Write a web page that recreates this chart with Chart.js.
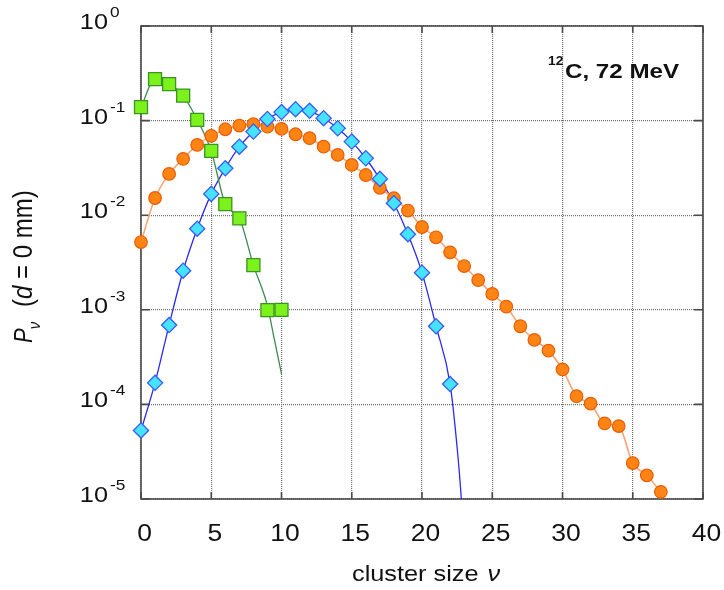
<!DOCTYPE html>
<html>
<head>
<meta charset="utf-8">
<script src="https://cdn.jsdelivr.net/npm/chart.js@4/dist/chart.umd.min.js"></script>
<style>
  html, body { margin: 0; padding: 0; background: #fff; }
</style>
</head>
<body>
<canvas id="chart" width="724" height="590"></canvas>
<script>
// cluster size distributions, 12C at 72 MeV, d = 0 mm
var sizeGreen = [0, 1, 2, 3, 4, 5, 6, 7, 8, 9, 10];
var probGreen = [0.139, 0.274, 0.243, 0.184, 0.102, 0.0478, 0.0131, 0.00927, 0.00297, 0.00099, 0.001];

var fitGreenX = [0, 1, 2, 3, 4, 5, 6, 7, 8, 9, 9.5, 10];
var fitGreenY = [0.139, 0.274, 0.243, 0.184, 0.102, 0.0478, 0.0131, 0.00927, 0.00297, 0.0011, 0.00048, 0.00021];

var sizeBlue = [0, 1, 2, 3, 4, 5, 6, 7, 8, 9, 10, 11, 12, 13, 14, 15, 16, 17, 18, 19, 20, 21, 22];
var probBlue = [5.3e-5, 1.69e-4, 6.9e-4, 2.59e-3, 7.2e-3, 0.0168, 0.0313, 0.053, 0.0765, 0.104, 0.123, 0.132,
	0.127, 0.106, 0.083, 0.060, 0.040, 0.0242, 0.0134, 6.3e-3, 2.47e-3, 6.7e-4, 1.64e-4];

var fitBlueX = sizeBlue.concat([22.5, 22.8, 23]);
var fitBlueY = probBlue.concat([3.5e-5, 1e-5, 3e-6]);

var sizeOrange = [0, 1, 2, 3, 4, 5, 6, 7, 8, 9, 10, 11, 12, 13, 14, 15, 16, 17, 18, 19, 20, 21, 22, 23, 24,
	25, 26, 27, 28, 29, 30, 31, 32, 33, 34, 35, 36, 37];
var probOrange = [5.2e-3, 0.0152, 0.0273, 0.0394, 0.0553, 0.069, 0.081, 0.0886, 0.092, 0.0864, 0.0817, 0.0717,
	0.0652, 0.053, 0.0434, 0.034, 0.0266, 0.0195, 0.0151, 0.0112, 7.5e-3, 5.84e-3, 4.05e-3, 2.9e-3, 2.06e-3,
	1.47e-3, 1.08e-3, 6.7e-4, 4.8e-4, 3.7e-4, 2.34e-4, 1.22e-4, 1.02e-4, 6.3e-5, 5.9e-5, 2.4e-5, 1.78e-5, 1.19e-5];

var xTicks = [0, 5, 10, 15, 20, 25, 30, 35, 40];
var yTicks = [1, 1e-1, 1e-2, 1e-3, 1e-4, 1e-5];
var yExp = ['0', '-1', '-2', '-3', '-4', '-5'];

var FONT = '"Liberation Sans", Arial, sans-serif';
var SX = 1.15; // the picture is a little wider than tall

function pts(xs, ys) {
	return xs.map(function (v, i) { return {x: v, y: ys[i]}; });
}

function text(ctx, str, x, y, font, align) {
	ctx.save();
	ctx.translate(x, y);
	ctx.scale(SX, 1);
	ctx.font = font;
	ctx.textAlign = align || 'left';
	ctx.textBaseline = 'alphabetic';
	ctx.fillText(str, 0, 0);
	ctx.restore();
}

var frame = {
	id: 'frame',
	beforeDatasetsDraw: function (chart) {
		var ctx = chart.ctx, a = chart.chartArea, x = chart.scales.x, y = chart.scales.y;
		ctx.save();
		ctx.strokeStyle = '#4a4a4a';
		ctx.lineWidth = 1.6;
		ctx.strokeRect(a.left, a.top, a.right - a.left, a.bottom - a.top);
		ctx.beginPath();
		xTicks.forEach(function (v) {
			var px = x.getPixelForValue(v);
			ctx.moveTo(px, a.bottom); ctx.lineTo(px, a.bottom - 7);
			ctx.moveTo(px, a.top); ctx.lineTo(px, a.top + 7);
		});
		yTicks.forEach(function (v) {
			var py = y.getPixelForValue(v);
			ctx.moveTo(a.left, py); ctx.lineTo(a.left + 9, py);
			ctx.moveTo(a.right, py); ctx.lineTo(a.right - 9, py);
		});
		ctx.stroke();
		ctx.restore();
	},
	afterDraw: function (chart) {
		var ctx = chart.ctx, x = chart.scales.x, y = chart.scales.y;
		ctx.save();
		ctx.fillStyle = '#111';

		// y tick labels 10^n
		yTicks.forEach(function (v, i) {
			var py = y.getPixelForValue(v);
			text(ctx, '10', 108, py + 3, '22px ' + FONT, 'right');
			text(ctx, yExp[i], 110, py - 9, '15px ' + FONT, 'left');
		});

		// x tick labels
		xTicks.forEach(function (v) {
			text(ctx, String(v), x.getPixelForValue(v) + 3.5, 541, '23px ' + FONT, 'center');
		});

		// x title
		ctx.font = '22px ' + FONT;
		var w = ctx.measureText('cluster size ').width * SX;
		text(ctx, 'cluster size ', 352, 581, '22px ' + FONT);
		text(ctx, 'ν', 352 + w + 2, 581, 'italic 22px ' + FONT);

		// y title, rotated
		ctx.save();
		ctx.translate(32, 343);
		ctx.scale(SX, 1);
		ctx.rotate(-Math.PI / 2);
		ctx.textBaseline = 'alphabetic';
		ctx.font = 'italic 22px ' + FONT;
		ctx.fillText('P', 0, 0);
		var pw = ctx.measureText('P').width;
		ctx.font = 'italic 15px ' + FONT;
		ctx.fillText('ν', pw - 1, 7);
		var cx = 36;
		ctx.font = '24px ' + FONT;
		ctx.fillText('(', cx, 0);
		cx += ctx.measureText('(').width;
		ctx.font = 'italic 24px ' + FONT;
		ctx.fillText('d', cx, 0);
		cx += ctx.measureText('d').width;
		ctx.font = '24px ' + FONT;
		ctx.fillText(' = 0 mm)', cx, 0);
		ctx.restore();

		// label in the corner
		text(ctx, '12', 548, 65, 'bold 12px ' + FONT);
		text(ctx, 'C, 72 MeV', 565, 78, 'bold 21px ' + FONT);
		ctx.restore();
	}
};

new Chart(document.getElementById('chart'), {
	type: 'line',
	data: {
		datasets: [{
			label: 'green',
			data: pts(sizeGreen, probGreen),
			showLine: false,
			pointStyle: 'rect',
			pointRadius: 9.2,
			pointBackgroundColor: '#7cf21c',
			pointBorderColor: '#3a9322',
			pointBorderWidth: 1.3,
			clip: false,
			order: 1
		}, {
			label: 'blue',
			data: pts(sizeBlue, probBlue),
			showLine: false,
			pointStyle: 'rectRot',
			pointRadius: 7.6,
			pointBackgroundColor: '#45e3ff',
			pointBorderColor: '#3a5cf2',
			pointBorderWidth: 1.3,
			clip: false,
			order: 2
		}, {
			label: 'orange',
			data: pts(sizeOrange, probOrange),
			borderColor: '#f6a577',
			borderWidth: 1.6,
			cubicInterpolationMode: 'monotone',
			pointRadius: 6.3,
			pointBackgroundColor: '#ff8414',
			pointBorderColor: '#e85e06',
			pointBorderWidth: 1.2,
			clip: false,
			order: 3
		}, {
			label: 'green fit',
			data: pts(fitGreenX, fitGreenY),
			borderColor: '#3e8a52',
			borderWidth: 1.3,
			cubicInterpolationMode: 'monotone',
			pointRadius: 0,
			order: 4
		}, {
			label: 'blue fit',
			data: pts(fitBlueX, fitBlueY),
			borderColor: '#2b2bec',
			borderWidth: 1.3,
			cubicInterpolationMode: 'monotone',
			pointRadius: 0,
			order: 5
		}]
	},
	options: {
		responsive: false,
		animation: false,
		events: [],
		layout: {padding: {left: 141, top: 26, right: 21, bottom: 91}},
		plugins: {legend: {display: false}, tooltip: {enabled: false}},
		scales: {
			x: {
				type: 'linear',
				min: 0,
				max: 40,
				ticks: {display: false, stepSize: 5, padding: 0},
				grid: {color: '#707070', lineWidth: 1.2, drawTicks: false},
				border: {display: false, dash: [1, 1]}
			},
			y: {
				type: 'logarithmic',
				min: 1e-5,
				max: 1,
				afterBuildTicks: function (scale) {
					scale.ticks = yTicks.map(function (v) { return {value: v}; });
				},
				ticks: {display: false, padding: 0},
				grid: {color: '#707070', lineWidth: 1.2, drawTicks: false},
				border: {display: false, dash: [1, 1]}
			}
		}
	},
	plugins: [frame]
});
</script>
</body>
</html>
